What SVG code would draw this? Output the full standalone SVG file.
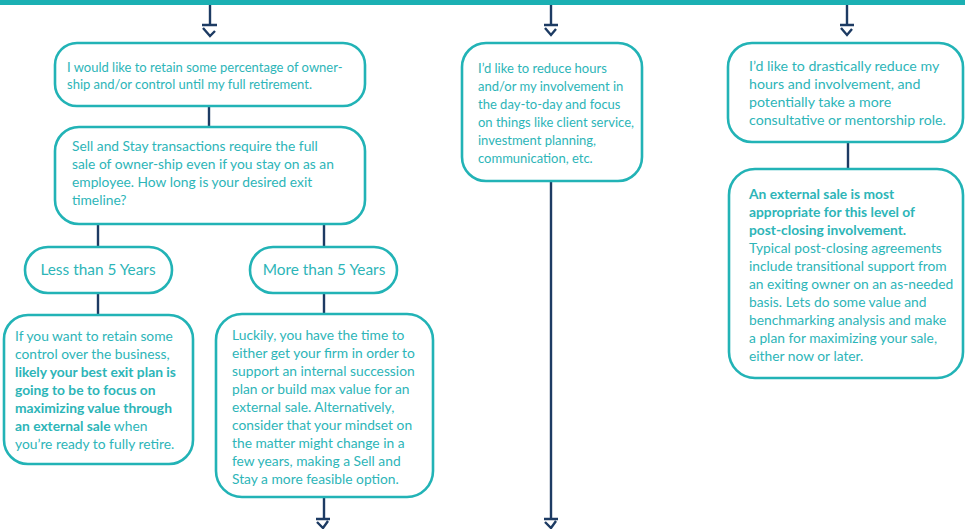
<svg xmlns="http://www.w3.org/2000/svg" width="965" height="529" viewBox="0 0 965 529">
<style>
.box{fill:#fff;stroke:#22b3b6;stroke-width:2.6}
.t{font-family:Lato,"Liberation Sans",sans-serif;font-size:13.8px;fill:#2db5b8}
.s{font-size:13px}
.l{font-size:14.2px}
.p{font-size:15.4px}
.b{font-weight:bold}
.c{fill:none;stroke:#1d3b63;stroke-width:2.4}
.ah{fill:none;stroke:#1d3b63;stroke-width:2.4;stroke-linejoin:miter}
</style>
<rect x="0" y="0" width="965" height="5" fill="#1bb0b3"/>
<g id="connectors">
<line class="c" x1="210" y1="5" x2="210" y2="25"/>
<path class="ah" d="M202,25H217M203,28L210,36L215,31"/>
<line class="c" x1="551" y1="5" x2="551" y2="25"/>
<path class="ah" d="M544,25H558M545,28L551,35L556,29"/>
<line class="c" x1="847" y1="5" x2="847" y2="25"/>
<path class="ah" d="M840,25H854M841,28L847,35L852,29"/>
<line class="c" x1="209" y1="106" x2="209" y2="128"/>
<line class="c" x1="98" y1="224" x2="98" y2="248"/>
<line class="c" x1="324" y1="224" x2="324" y2="248"/>
<line class="c" x1="98" y1="293" x2="98" y2="315"/>
<line class="c" x1="324" y1="293" x2="324" y2="315"/>
<line class="c" x1="324" y1="497" x2="324" y2="519"/>
<path class="ah" d="M316,519H330M317,522L323,528L328,521"/>
<line class="c" x1="551" y1="181" x2="551" y2="519"/>
<path class="ah" d="M544,519H558M545,522L551,528L556,521"/>
<line class="c" x1="848" y1="142" x2="848" y2="169"/>
</g>
<g id="n1">
<rect class="box" x="55" y="43" width="310" height="63" rx="22"/>
<text class="t s"><tspan x="67" y="72">I would like to retain some percentage of owner-</tspan><tspan x="67" y="89">ship and/or control until my full retirement.</tspan></text>
</g>
<g id="n2">
<rect class="box" x="55" y="127" width="310" height="97" rx="24"/>
<text class="t"><tspan x="72" y="151">Sell and Stay transactions require the full</tspan><tspan x="72" y="169">sale of owner-ship even if you stay on as an</tspan><tspan x="72" y="187">employee. How long is your desired exit</tspan><tspan x="72" y="205">timeline?</tspan></text>
</g>
<g id="n3">
<rect class="box" x="25" y="247" width="147" height="46" rx="23"/>
<text class="t p" x="98" y="275" text-anchor="middle">Less than 5 Years</text>
</g>
<g id="n4">
<rect class="box" x="250" y="247" width="147" height="46" rx="23"/>
<text class="t p" x="324" y="275" text-anchor="middle">More than 5 Years</text>
</g>
<g id="n5">
<rect class="box" x="4" y="315" width="189" height="149" rx="24"/>
<text class="t"><tspan x="15" y="341">If you want to retain some</tspan><tspan x="15" y="359">control over the business,</tspan><tspan x="15" y="377" class="b">likely your best exit plan is</tspan><tspan x="15" y="395" class="b">going to be to focus on</tspan><tspan x="15" y="413" class="b">maximizing value through</tspan><tspan x="15" y="431"><tspan class="b">an external sale</tspan> when</tspan><tspan x="15" y="449">you’re ready to fully retire.</tspan></text>
</g>
<g id="n6">
<rect class="box" x="216" y="314" width="217" height="183" rx="26"/>
<text class="t"><tspan x="232" y="340">Luckily, you have the time to</tspan><tspan x="232" y="358">either get your firm in order to</tspan><tspan x="232" y="376">support an internal succession</tspan><tspan x="232" y="394">plan or build max value for an</tspan><tspan x="232" y="412">external sale. Alternatively,</tspan><tspan x="232" y="430">consider that your mindset on</tspan><tspan x="232" y="448">the matter might change in a</tspan><tspan x="232" y="466">few years, making a Sell and</tspan><tspan x="232" y="484">Stay a more feasible option.</tspan></text>
</g>
<g id="n7">
<rect class="box" x="462" y="43" width="180" height="138" rx="24"/>
<text class="t s"><tspan x="478" y="73">I’d like to reduce hours</tspan><tspan x="478" y="91">and/or my involvement in</tspan><tspan x="478" y="109">the day-to-day and focus</tspan><tspan x="478" y="127">on things like client service,</tspan><tspan x="478" y="145">investment planning,</tspan><tspan x="478" y="163">communication, etc.</tspan></text>
</g>
<g id="n8">
<rect class="box" x="728" y="43" width="235" height="99" rx="24"/>
<text class="t l"><tspan x="749" y="71">I’d like to drastically reduce my</tspan><tspan x="749" y="89">hours and involvement, and</tspan><tspan x="749" y="107">potentially take a more</tspan><tspan x="749" y="125">consultative or mentorship role.</tspan></text>
</g>
<g id="n9">
<rect class="box" x="729" y="169" width="234" height="209" rx="26"/>
<text class="t"><tspan x="749" y="199" class="b">An external sale is most</tspan><tspan x="749" y="217" class="b">appropriate for this level of</tspan><tspan x="749" y="235" class="b">post-closing involvement.</tspan><tspan x="749" y="253">Typical post-closing agreements</tspan><tspan x="749" y="271">include transitional support from</tspan><tspan x="749" y="289">an exiting owner on an as-needed</tspan><tspan x="749" y="307">basis. Lets do some value and</tspan><tspan x="749" y="325">benchmarking analysis and make</tspan><tspan x="749" y="343">a plan for maximizing your sale,</tspan><tspan x="749" y="361">either now or later.</tspan></text>
</g>
</svg>
